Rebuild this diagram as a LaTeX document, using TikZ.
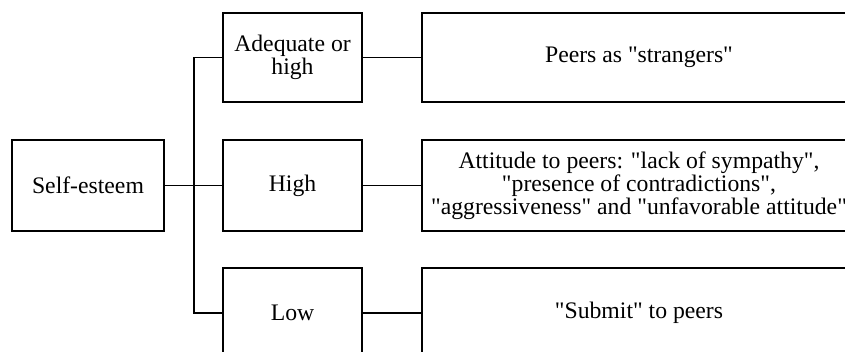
\documentclass[tikz,border=0pt]{standalone}
\usepackage{fontspec}
\setmainfont{Liberation Serif}
\newcommand{\dq}{\textquotedbl}
\begin{document}
\begin{tikzpicture}[x=1pt,y=-1pt,
  box/.style={draw=black,line width=1.8pt,inner sep=0pt,align=center,
    font=\fontsize{23.7}{23}\selectfont},
  conn/.style={draw=black,line width=1.8pt}]
\clip (0,0) rectangle (845,352);
\fill[white] (0,0) rectangle (845,352);
\node[box,minimum width=152pt,minimum height=91pt] (se) at (88,185.5) {Self-esteem};
\node[box,minimum width=139pt,minimum height=89pt] (ah) at (292.5,57.5) {Adequate or\\high};
\node[box,minimum width=139pt,minimum height=91pt] (hi) at (292.5,185.5) {High};
\node[box,minimum width=139pt,minimum height=90pt] (lo) at (292.5,313) {Low};
\node[box,minimum width=434pt,minimum height=89pt] (r1) at (639,57.5) {Peers as \dq strangers\dq};
\node[box,minimum width=434pt,minimum height=91pt] (r2) at (639,185.5) {Attitude to peers: \dq lack of sympathy\dq,\\\dq presence of contradictions\dq,\\\dq aggressiveness\dq{} and \dq unfavorable attitude\dq};
\node[box,minimum width=434pt,minimum height=90pt] (r3) at (639,313) {\dq Submit\dq{} to peers};
\coordinate (tt) at (194,57.5);
\coordinate (tb) at (194,313);
\draw[conn] (ah.west) -- (tt) -- (tb) -- (lo.west);
\draw[conn] (se.east) -- (hi.west);
\draw[conn] (ah.east) -- (r1.west);
\draw[conn] (hi.east) -- (r2.west);
\draw[conn] (lo.east) -- (r3.west);
\end{tikzpicture}
\end{document}
